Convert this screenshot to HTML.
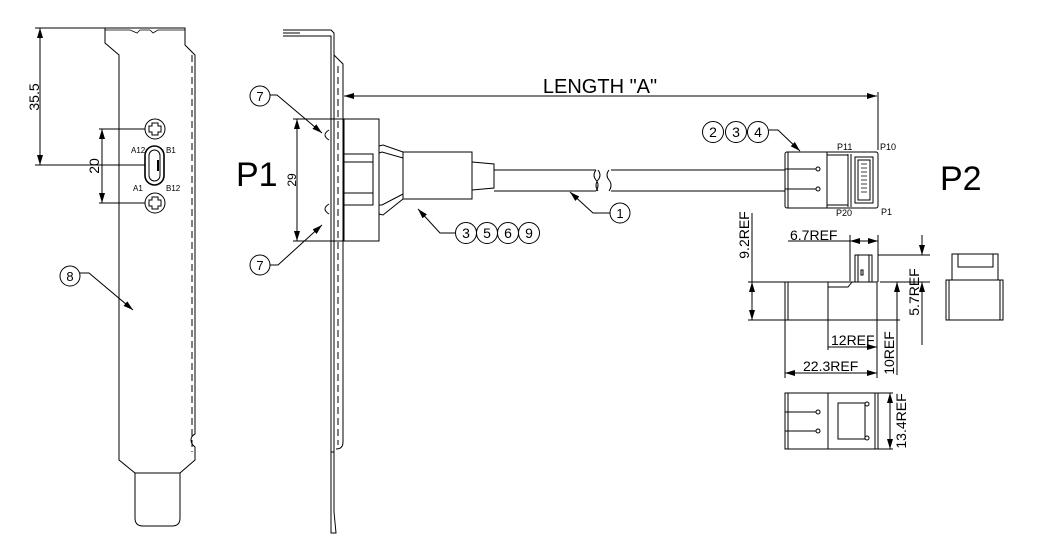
<!DOCTYPE html>
<html><head><meta charset="utf-8"><style>
html,body{margin:0;padding:0;background:#fff;}
svg{display:block;font-family:"Liberation Sans",sans-serif;}
</style></head><body>
<svg width="1042" height="559" viewBox="0 0 1042 559" xmlns="http://www.w3.org/2000/svg">
<defs>
<marker id="a" viewBox="0 0 10 6" refX="10" refY="3" markerWidth="10" markerHeight="6" orient="auto-start-reverse" markerUnits="userSpaceOnUse"><path d="M0,0 L10,3 L0,6 z" fill="#000"/></marker>
</defs>
<g fill="none" stroke="#000" stroke-width="1">
<!-- left bracket -->
<path d="M105,28 L105,43 L119,55 L119,460 L135,473 L135,518 Q135,526 143,526 L172,526 Q180,526 180,518 L180,473 L195,460 L195,447 Q191,444 191,440 Q191,436 195,434 L195,55 L185,45 L185,28 Z"/>
<line x1="135" y1="473" x2="180" y2="473"/>
<path d="M192,55 L192,452" stroke-dasharray="7,4"/>
<path d="M105,30 L130,30 L137,33 L140,30 L150,30 L153,33 L158,30 L185,30" stroke-width="0.8"/>
<!-- 35.5 dim -->
<line x1="35" y1="28" x2="105" y2="28"/>
<line x1="40" y1="28" x2="40" y2="165" marker-start="url(#a)" marker-end="url(#a)"/>
<line x1="35" y1="165" x2="145" y2="165"/>
<!-- 20 dim -->
<line x1="99" y1="129" x2="145" y2="129"/>
<line x1="99" y1="203" x2="145" y2="203"/>
<line x1="102" y1="129" x2="102" y2="203" marker-start="url(#a)" marker-end="url(#a)"/>
<circle cx="155" cy="129" r="10"/><circle cx="155" cy="203" r="10"/>
<path d="M152,123 h6 v3 h3 v6 h-3 v3 h-6 v-3 h-3 v-6 h3 z"/>
<path d="M152,197 h6 v3 h3 v6 h-3 v3 h-6 v-3 h-3 v-6 h3 z"/>
<rect x="145" y="146" width="19" height="39" rx="9.5" stroke-width="1.6"/>
<rect x="149" y="150" width="11" height="31" rx="5.5"/>
<line x1="158" y1="160" x2="158" y2="171" stroke-width="2"/>
<circle cx="70" cy="276" r="10"/>
<path d="M80,273 L89,273 L133,310" marker-end="url(#a)"/>
<!-- middle bracket -->
<path d="M283,30 L331,30 L334,33 L334,512 L336,533 L331,533 L331,512 L331,36 L283,36"/>
<line x1="283" y1="33" x2="300" y2="33"/>
<path d="M334,55 L343,64 L343,442 Q343,449 336,449"/>
<path d="M338,66 L338,445" stroke-dasharray="7,4"/>
<line x1="331" y1="452" x2="334" y2="452"/>
<!-- P1 connector -->
<rect x="344" y="119" width="35" height="122"/>
<rect x="343" y="154" width="30" height="51"/>
<line x1="343" y1="162" x2="373" y2="162"/><line x1="343" y1="193" x2="373" y2="193"/>
<path d="M379,146 L383,145 L403,152 L403,158 L382,152 L379,153"/>
<path d="M379,214 L383,215 L403,199 L403,194 L382,205 L379,205"/>
<rect x="403" y="152" width="69" height="47"/>
<path d="M472,162 L494,164 L494,188 L472,190"/>
<line x1="494" y1="170" x2="596" y2="170"/><line x1="494" y1="191" x2="596" y2="191"/>
<path d="M596,170 q-4,5 0,10 q4,5 0,11 M598,170 q4,5 0,10 q-4,5 0,11"/>
<path d="M609,170 q-4,5 0,10 q4,5 0,11"/>
<line x1="611" y1="170" x2="785" y2="170"/><line x1="611" y1="191" x2="785" y2="191"/>
<path d="M329,130 q-8,5 0,10 M329,204 q-8,5 0,10"/>
<!-- 29 dim -->
<line x1="293" y1="119" x2="344" y2="119"/><line x1="293" y1="241" x2="344" y2="241"/>
<line x1="297" y1="119" x2="297" y2="241" marker-start="url(#a)" marker-end="url(#a)"/>
<circle cx="260" cy="96" r="10"/><circle cx="260" cy="265" r="10"/>
<path d="M270,95 L277,95 L322,133" marker-end="url(#a)"/>
<path d="M270,265 L278,265 L322,225" marker-end="url(#a)"/>
<circle cx="466" cy="233" r="10.5"/><circle cx="487" cy="233" r="10.5"/><circle cx="508" cy="233" r="10.5"/><circle cx="529" cy="233" r="10.5"/>
<path d="M456,233 L440,233 L418,209" marker-end="url(#a)"/>
<circle cx="620" cy="213" r="10"/>
<path d="M610,213 L593,213 L570,192" marker-end="url(#a)"/>
<!-- length -->
<line x1="344" y1="96" x2="877" y2="96" marker-start="url(#a)" marker-end="url(#a)"/>
<line x1="878" y1="92" x2="878" y2="150"/>
<!-- P2 top -->
<rect x="785" y="152" width="93" height="56" rx="2"/>
<line x1="788" y1="152" x2="788" y2="208"/>
<path d="M827,152 L827,208 M848,154 L848,207 M851,154 L851,207"/>
<line x1="827" y1="155" x2="848" y2="155"/><line x1="827" y1="205" x2="848" y2="205"/>
<rect x="855" y="157" width="18" height="46"/>
<rect x="858" y="160" width="12" height="40"/>
<path d="M861,164 h6 M861,168 h6 M861,172 h6 M861,176 h6 M861,180 h6 M861,184 h6 M861,188 h6 M861,192 h6" stroke-width="0.7"/>
<line x1="785" y1="169" x2="816" y2="169"/><line x1="785" y1="189" x2="816" y2="189"/>
<circle cx="818" cy="169" r="2"/><circle cx="818" cy="189" r="2"/>
<circle cx="713" cy="132" r="10.5"/><circle cx="736" cy="132" r="10.5"/><circle cx="758" cy="132" r="10.5"/>
<path d="M769,130 L778,130 L800,151" marker-end="url(#a)"/>
<!-- side view -->
<rect x="785" y="282" width="92" height="38"/>
<line x1="788" y1="282" x2="788" y2="320"/>
<path d="M828,282 L828,320 M828,287 L848,287 L852,282"/>
<rect x="855" y="255" width="17" height="27"/>
<line x1="858" y1="255" x2="858" y2="282"/><line x1="869" y1="255" x2="869" y2="282"/>
<rect x="861" y="270" width="2" height="5"/>
<line x1="752" y1="213" x2="752" y2="320" marker-end="url(#a)"/>
<line x1="752" y1="300" x2="752" y2="282" marker-end="url(#a)"/>
<line x1="748" y1="282" x2="785" y2="282"/><line x1="748" y1="320" x2="785" y2="320"/>
<line x1="788" y1="241" x2="850" y2="241"/>
<line x1="850" y1="241" x2="878" y2="241" marker-start="url(#a)" marker-end="url(#a)"/>
<line x1="850" y1="235" x2="850" y2="281"/><line x1="878" y1="235" x2="878" y2="282"/>
<line x1="878" y1="255" x2="930" y2="255"/><line x1="880" y1="282" x2="930" y2="282"/>
<line x1="922" y1="235" x2="922" y2="255" marker-end="url(#a)"/>
<line x1="922" y1="345" x2="922" y2="282" marker-end="url(#a)"/>
<line x1="877" y1="320" x2="900" y2="320"/>
<line x1="897" y1="375" x2="897" y2="282" marker-end="url(#a)"/>
<line x1="828" y1="320" x2="828" y2="350"/>
<line x1="828" y1="347" x2="877" y2="347" marker-end="url(#a)"/>
<line x1="785" y1="320" x2="785" y2="378"/><line x1="877" y1="320" x2="877" y2="378"/>
<line x1="785" y1="373" x2="877" y2="373" marker-start="url(#a)" marker-end="url(#a)"/>
<!-- end view -->
<rect x="946" y="280" width="57" height="40"/>
<line x1="949" y1="280" x2="949" y2="320"/><line x1="1000" y1="280" x2="1000" y2="320"/>
<path d="M952,280 L952,254 L998,254 L998,280"/>
<rect x="958" y="254" width="35" height="13"/>
<!-- bottom view -->
<rect x="785" y="393" width="93" height="56"/>
<line x1="788" y1="393" x2="788" y2="449"/><line x1="875" y1="393" x2="875" y2="449"/>
<line x1="828" y1="393" x2="828" y2="449"/>
<line x1="785" y1="412" x2="816" y2="412"/><line x1="785" y1="431" x2="816" y2="431"/>
<circle cx="818" cy="412" r="2"/><circle cx="818" cy="431" r="2"/>
<rect x="838" y="403" width="27" height="36"/>
<circle cx="867" cy="404" r="2"/><circle cx="867" cy="438" r="2"/>
<line x1="878" y1="393" x2="893" y2="393"/><line x1="878" y1="449" x2="893" y2="449"/>
<line x1="890" y1="393" x2="890" y2="449" marker-start="url(#a)" marker-end="url(#a)"/>
</g>
<g fill="#000">
<text x="0" y="0" font-size="14" transform="translate(39,97) rotate(-90)" text-anchor="middle">35.5</text>
<text x="0" y="0" font-size="14" transform="translate(99,166) rotate(-90)" text-anchor="middle">20</text>
<text x="131" y="153" font-size="8">A12</text><text x="166" y="153" font-size="8">B1</text>
<text x="133" y="191" font-size="8">A1</text><text x="166" y="191" font-size="8">B12</text>
<text x="70" y="281" font-size="13" text-anchor="middle">8</text>
<text x="236" y="186" font-size="34">P1</text>
<text x="0" y="0" font-size="12" transform="translate(296,180) rotate(-90)" text-anchor="middle">29</text>
<text x="260" y="101" font-size="13" text-anchor="middle">7</text>
<text x="260" y="270" font-size="13" text-anchor="middle">7</text>
<text x="466" y="238" font-size="14" text-anchor="middle">3</text>
<text x="487" y="238" font-size="14" text-anchor="middle">5</text>
<text x="508" y="238" font-size="14" text-anchor="middle">6</text>
<text x="529" y="238" font-size="14" text-anchor="middle">9</text>
<text x="620" y="218" font-size="13" text-anchor="middle">1</text>
<text x="600" y="93" font-size="20" text-anchor="middle">LENGTH "A"</text>
<text x="713" y="137" font-size="14" text-anchor="middle">2</text>
<text x="736" y="137" font-size="14" text-anchor="middle">3</text>
<text x="758" y="137" font-size="14" text-anchor="middle">4</text>
<text x="837" y="150" font-size="9">P11</text>
<text x="880" y="150" font-size="9">P10</text>
<text x="836" y="216" font-size="9">P20</text>
<text x="881" y="215" font-size="9">P1</text>
<text x="940" y="190" font-size="34">P2</text>
<text x="0" y="0" font-size="14" transform="translate(749,235) rotate(-90)" text-anchor="middle">9.2REF</text>
<text x="790" y="240" font-size="14">6.7REF</text>
<text x="0" y="0" font-size="14" transform="translate(919,292) rotate(-90)" text-anchor="middle">5.7REF</text>
<text x="0" y="0" font-size="14" transform="translate(894,353) rotate(-90)" text-anchor="middle">10REF</text>
<text x="831" y="345" font-size="14">12REF</text>
<text x="803" y="371" font-size="14">22.3REF</text>
<text x="0" y="0" font-size="14" transform="translate(906,421) rotate(-90)" text-anchor="middle">13.4REF</text>
</g>
</svg>
</body></html>
